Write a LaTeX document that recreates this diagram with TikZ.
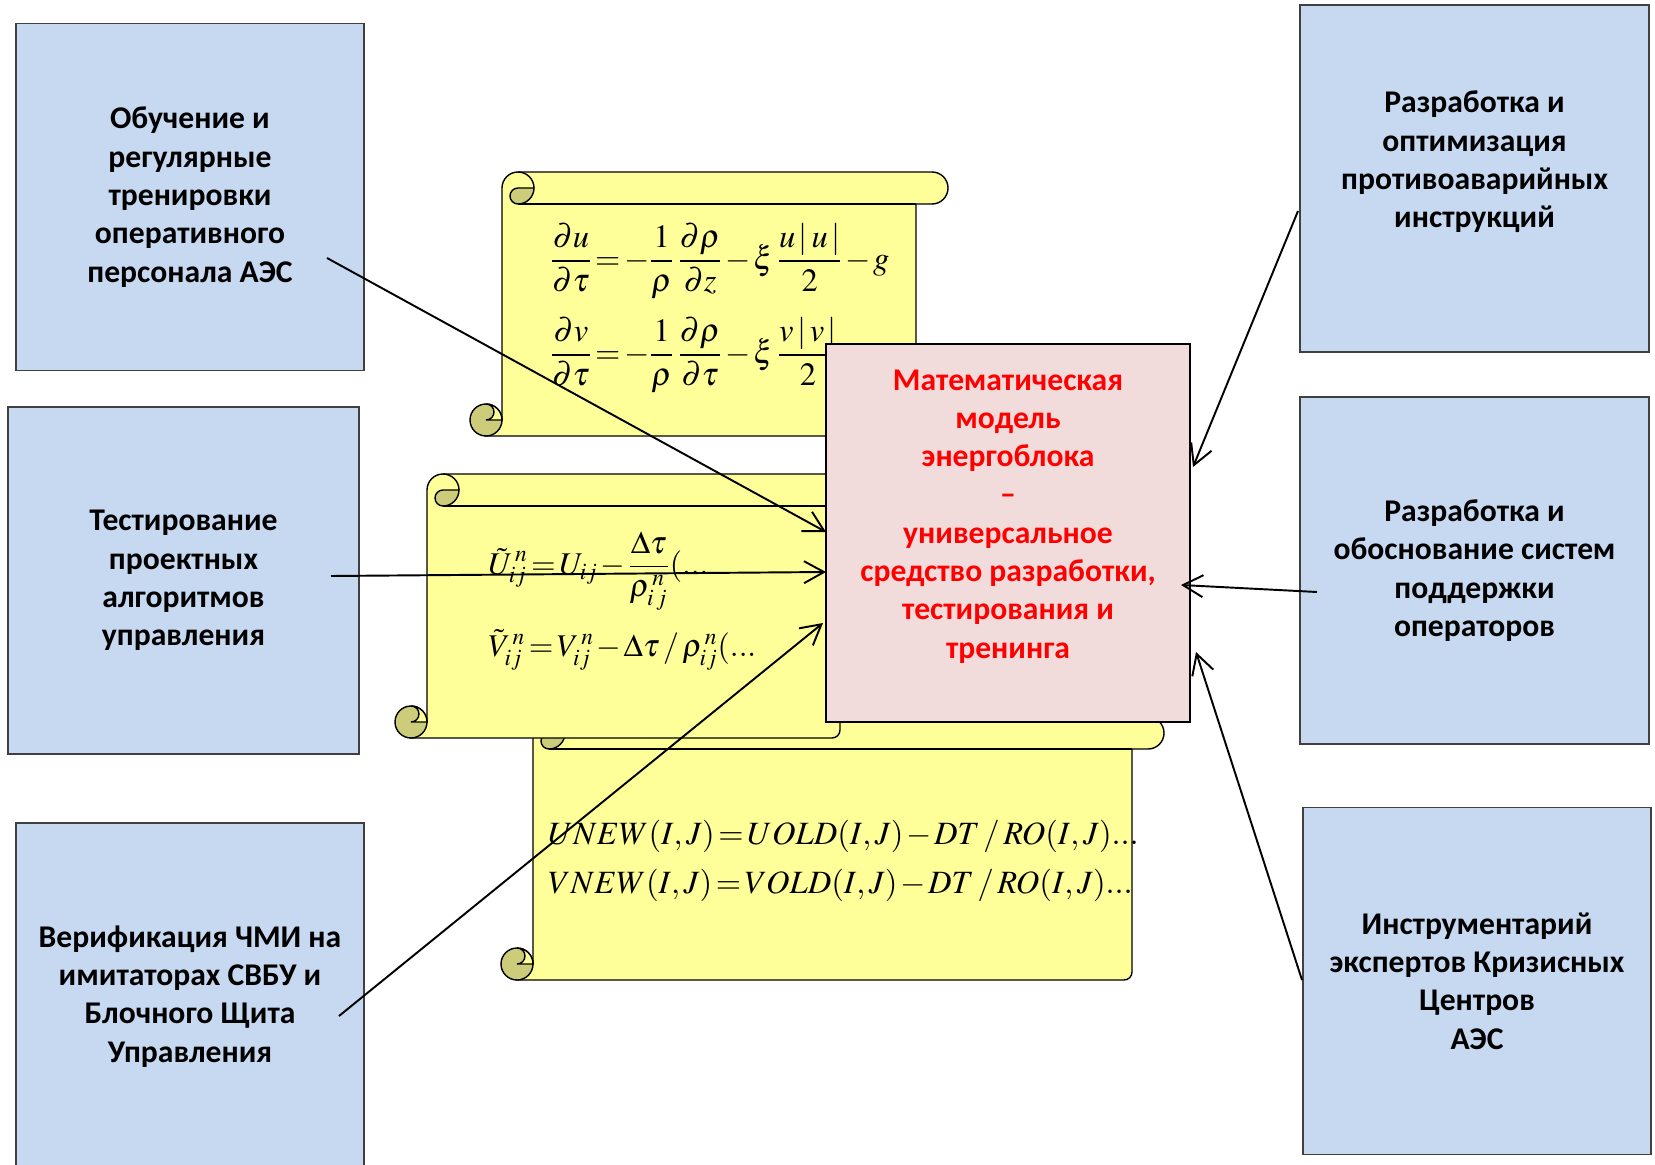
\documentclass[tikz,border=0pt]{standalone}
\usepackage{mathptmx}
\usepackage[no-math]{fontspec}
\newfontfamily\boxfont{Carlito}
\usetikzlibrary{arrows.meta}

\definecolor{boxblue}{RGB}{198,217,241}
\definecolor{modelpink}{RGB}{242,220,219}
\definecolor{scrollyellow}{RGB}{255,255,153}
\definecolor{scrolldark}{RGB}{204,204,122}

\tikzstyle{arrow} = [line width=1.1pt,-{Straight Barb[length=4mm,width=4.4mm]}]
\tikzstyle{task} = [draw=black!75,line width=0.8pt,fill=boxblue,minimum width=6.96cm,minimum height=6.94cm,align=center,font=\boxfont\bfseries\fontsize{18}{21.8}\selectfont]
\tikzstyle{modelbox} = [draw=black,line width=1.1pt,fill=modelpink,minimum width=7.28cm,minimum height=7.56cm,align=center,text=red,font=\boxfont\bfseries\fontsize{18}{21.8}\selectfont]
\tikzstyle{scrollline} = [draw=black,line width=0.8pt]
\tikzstyle{formula} = [anchor=west,inner sep=0pt,execute at begin node={\thickmuskip=2mu \medmuskip=1.5mu }]

% scroll: #1 body left, #2 roll right, #3 top, #4 bottom (in px)
\newcommand{\drawscroll}[4]{%
  \filldraw[scrollline,fill=scrollyellow]
    (#1,{#3+16}) arc[start angle=180,end angle=270,radius=16]
    -- ({#2-16},#3) arc[start angle=270,end angle=450,radius=16]
    -- ({#2-32},{#3+32}) -- ({#2-32},{#4-8}) arc[start angle=0,end angle=90,radius=8]
    -- ({#1-16},#4) -- (#1,{#4-16}) -- cycle;
  \draw[scrollline] ({#1+16},{#3+32}) -- ({#2-32},{#3+32});
  \draw[scrollline] ({#1+16},#3) arc[start angle=270,end angle=360,radius=16];
  \filldraw[scrollline,fill=scrolldark] ({#1+16},{#3+16}) -- ({#1+32},{#3+16})
    arc[start angle=0,end angle=90,radius=16] arc[start angle=90,end angle=270,radius=8] -- cycle;
  \filldraw[scrollline,fill=scrolldark] ({#1-16},{#4-16}) circle[radius=16];
  \filldraw[scrollline,fill=scrollyellow] ({#1-16},{#4-32})
    arc[start angle=270,end angle=360,radius=16] -- ({#1-16},{#4-16})
    arc[start angle=90,end angle=-90,radius=8] -- cycle;
}

\begin{document}
\begin{tikzpicture}[x=0.02cm,y=-0.02cm]
	\useasboundingbox (0,0) rectangle (1655,1165);

	%Nodes
	\node[task] (training) at (190,197) {Обучение и\\регулярные\\тренировки\\оперативного\\персонала АЭС};
	\node[task,minimum width=7.02cm] (testing) at (183.5,580.5) {Тестирование\\проектных\\алгоритмов\\управления};
	\node[task] (verify) at (190,996.5) {Верификация ЧМИ на\\имитаторах СВБУ и\\Блочного Щита\\Управления};
	\node[task,minimum width=6.98cm] (instr) at (1474.5,178.5) {Разработка и\\оптимизация\\противоаварийных\\инструкций\\ \mbox{}};
	\node[task,minimum width=6.98cm] (support) at (1474.5,570.5) {Разработка и\\обоснование систем\\поддержки\\операторов};
	\node[task] (crisis) at (1477,981) {Инструментарий\\экспертов Кризисных\\Центров\\АЭС};

	%Scrolls
	\drawscroll{533}{1164}{717}{980}
	\drawscroll{427}{872}{474}{738}
	\drawscroll{502}{948}{172}{436}

	%Formulas
	\node[formula,font=\fontsize{18.5}{22}\selectfont] (equ) at (550,261)
		{$\displaystyle \frac{\partial u}{\partial\tau}=-\frac{1}{\rho}\,\frac{\partial\rho}{\partial z}-\xi\,\frac{u\,|\,u\,|}{2}-g$};
	\node[formula,font=\fontsize{18.5}{22}\selectfont] (eqv) at (550,355)
		{$\displaystyle \frac{\partial v}{\partial\tau}=-\frac{1}{\rho}\,\frac{\partial\rho}{\partial\tau}-\xi\,\frac{v\,|\,v\,|}{2}$};
	\node[formula,font=\fontsize{18}{22}\selectfont] (discu) at (488,571)
		{$\displaystyle \tilde{U}^{\,n}_{ij}=U_{ij}-\frac{\Delta\tau}{\rho^{\,n}_{i\,j}}(...$};
	\node[formula,font=\fontsize{18}{22}\selectfont] (discv) at (488,650)
		{$\tilde{V}^{\,n}_{ij}=V^{\,n}_{ij}-\Delta\tau\mkern2mu/\mkern2mu\rho^{\,n}_{ij}(...$};
	\node[formula,font=\fontsize{18.5}{22}\selectfont] (codeu) at (548,836)
		{$UNEW(I,J)=UOLD(I,J)-DT\mkern2mu/\mkern2mu RO(I,J)...$};
	\node[formula,font=\fontsize{18.5}{22}\selectfont] (codev) at (548,885)
		{$VNEW(I,J)=VOLD(I,J)-DT\mkern2mu/\mkern2mu RO(I,J)...$};

	\node[modelbox] (model) at (1008,533) {Математическая\\модель\\энергоблока\\–\\универсальное\\средство разработки,\\тестирования и\\тренинга\\ \mbox{}};

	%Lines
	\coordinate (s1) at (327,258);
	\coordinate (s2) at (331,576);
	\coordinate (s3) at (339,1016);
	\coordinate (s4) at (1298,211);
	\coordinate (s5) at (1317,592);
	\coordinate (s6) at (1302,980);
	\coordinate (t1) at (826,532);
	\coordinate (t2) at (826,572);
	\coordinate (t3) at (823,623);
	\coordinate (t4) at (1193,467);
	\coordinate (t5) at (1181,585);
	\coordinate (t6) at (1196,652);
	\draw[arrow] (s1) -- (t1);
	\draw[arrow] (s2) -- (t2);
	\draw[arrow] (s3) -- (t3);
	\draw[arrow] (s4) -- (t4);
	\draw[arrow] (s5) -- (t5);
	\draw[arrow] (s6) -- (t6);

\end{tikzpicture}
\end{document}
